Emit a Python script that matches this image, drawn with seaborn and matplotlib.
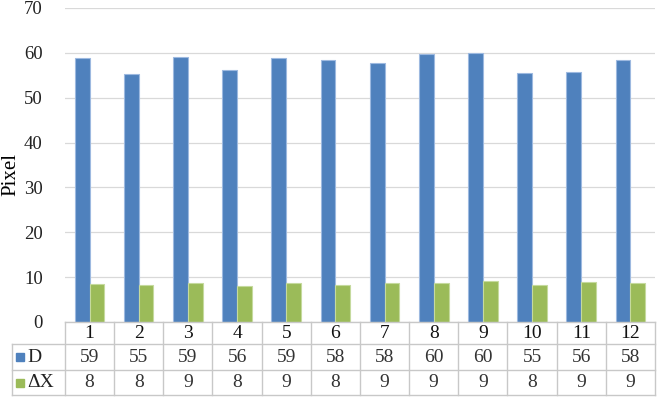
import seaborn as sns
import pandas as pd
import matplotlib.pyplot as plt
from matplotlib.patches import Rectangle

# data
categories = ["1", "2", "3", "4", "5", "6", "7", "8", "9", "10", "11", "12"]
d_values = [58.8, 55.3, 59.0, 56.2, 58.9, 58.4, 57.7, 59.7, 59.9, 55.4, 55.8, 58.4]
dx_values = [8.4, 8.2, 8.7, 8.0, 8.7, 8.3, 8.6, 8.7, 9.1, 8.3, 8.9, 8.8]
series_names = ["D", "ΔX"]
colors = ["#4F81BD", "#9BBB59"]
edge_colors = ["#9DB9E0", "#C5DA9E"]

df = pd.DataFrame({
    "cat": categories * 2,
    "value": d_values + dx_values,
    "series": [series_names[0]] * len(categories) + [series_names[1]] * len(categories),
})

plt.rcParams['font.family'] = ['Liberation Serif', 'DejaVu Serif']

fig = plt.figure(figsize=(6.61, 4.03), dpi=100)
ax = fig.add_axes([65 / 661, 1 - 322 / 403, 590 / 661, 314 / 403])

sns.barplot(data=df, x="cat", y="value", hue="series", order=categories,
            hue_order=series_names, palette=colors, width=0.6, ax=ax,
            legend=False, linewidth=0.8, saturation=1)

# lighter outline like the Excel bars
for i, cont in enumerate(ax.containers):
    for bar in cont:
        bar.set_edgecolor(edge_colors[i])

ax.set_ylim(0, 70)
ax.set_yticks(range(0, 71, 10))
ax.set_xlim(-0.5, len(categories) - 0.5)
ax.yaxis.grid(True, color="#D9D9D9", linewidth=0.9)
ax.set_axisbelow(True)
for s in ax.spines.values():
    s.set_visible(False)
ax.tick_params(axis="y", length=0, labelsize=13.5, pad=16, labelcolor="#222222")
ax.set_xticks([])
ax.set_xlabel("")
ax.set_ylabel("Pixel", fontsize=15, va="center")
ax.yaxis.set_label_coords(-54 / 590, 0.47)

# data table under the chart
line_c = "#C8C8C8"
row_y = [0, -22 / 314, -48 / 314, -73 / 314]
tr = ax.get_xaxis_transform()
left_x = -0.5 - 53 / (590 / len(categories))  # x of the legend column edge
n = len(categories)

ax.plot([-0.5, n - 0.5], [row_y[0]] * 2, color=line_c, lw=1, transform=tr, clip_on=False)
for y in row_y[1:]:
    ax.plot([left_x, n - 0.5], [y] * 2, color=line_c, lw=1, transform=tr, clip_on=False)
for k in range(n + 1):
    ax.plot([k - 0.5] * 2, [row_y[0], row_y[3]], color=line_c, lw=1, transform=tr, clip_on=False)
ax.plot([left_x] * 2, [row_y[1], row_y[3]], color=line_c, lw=1, transform=tr, clip_on=False)

def mid(a, b):
    return (a + b) / 2

for k, c in enumerate(categories):
    ax.text(k, mid(row_y[0], row_y[1]), c, transform=tr, ha="center", va="center",
            fontsize=14, color="#111111")
    ax.text(k, mid(row_y[1], row_y[2]), f"{d_values[k]:.0f}", transform=tr,
            ha="center", va="center", fontsize=14, color="#333333")
    ax.text(k, mid(row_y[2], row_y[3]), f"{dx_values[k]:.0f}", transform=tr,
            ha="center", va="center", fontsize=14, color="#333333")

for i, name in enumerate(series_names):
    ym = mid(row_y[i + 1], row_y[i + 2])
    yf = fig.transFigure.inverted().transform(ax.transAxes.transform((0, ym)))[1]
    fig.add_artist(Rectangle((16 / 661, yf - 4 / 403), 8 / 661, 8 / 403,
                             color=colors[i], transform=fig.transFigure))
    fig.text(27 / 661, yf, name, ha="left", va="center", fontsize=14, color="#222222")

fig.savefig("out.png", dpi=100)
